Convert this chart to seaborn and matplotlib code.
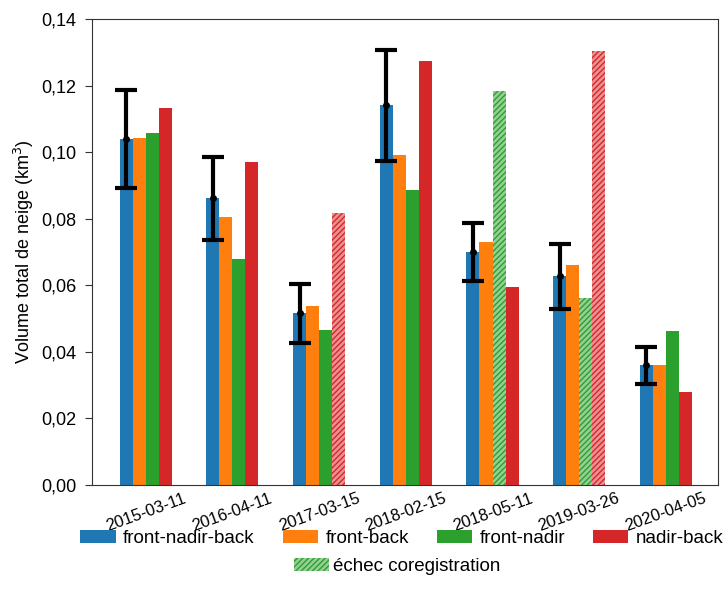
import numpy as np
import pandas as pd
import matplotlib
matplotlib.use("Agg")
import matplotlib.pyplot as plt
from matplotlib.patches import Patch
from matplotlib.colors import to_rgba
import seaborn as sns

dates = ["2015-03-11", "2016-04-11", "2017-03-15", "2018-02-15",
         "2018-05-11", "2019-03-26", "2020-04-05"]
methods = ["front-nadir-back", "front-back", "front-nadir", "nadir-back"]
front_nadir_back = [0.1040, 0.0862, 0.0517, 0.1142, 0.0700, 0.0627, 0.0362]
front_back = [0.1043, 0.0805, 0.0538, 0.0991, 0.0731, 0.0660, 0.0360]
front_nadir = [0.1057, 0.0679, 0.0466, 0.0886, 0.1184, 0.0562, 0.0463]
nadir_back = [0.1132, 0.0970, 0.0817, 0.1274, 0.0595, 0.1305, 0.0279]
err_low = [0.0892, 0.0736, 0.0427, 0.0973, 0.0613, 0.0529, 0.0304]
err_high = [0.1187, 0.0985, 0.0603, 0.1307, 0.0787, 0.0724, 0.0416]
# failed coregistration: (method, date)
failed = [("nadir-back", "2017-03-15"), ("front-nadir", "2018-05-11"),
          ("front-nadir", "2019-03-26"), ("nadir-back", "2019-03-26")]

colors = ["#1f77b4", "#ff7f0e", "#2ca02c", "#d62728"]

sns.set_style("ticks")
plt.rcParams["font.family"] = ["Liberation Sans", "DejaVu Sans"]
plt.rcParams["hatch.linewidth"] = 1.0
plt.rcParams["text.color"] = "black"
plt.rcParams["axes.labelcolor"] = "black"
plt.rcParams["xtick.color"] = "#333333"
plt.rcParams["ytick.color"] = "#333333"
plt.rcParams["xtick.labelcolor"] = "black"
plt.rcParams["ytick.labelcolor"] = "black"

series = [front_nadir_back, front_back, front_nadir, nadir_back]
rows = []
for m, vals in zip(methods, series):
    for d, v in zip(dates, vals):
        rows.append({"date": d, "method": m, "value": v})
df = pd.DataFrame(rows)

fig = plt.figure(figsize=(7.27, 6.04), dpi=100)
ax = fig.add_axes([0.1265, 0.197, 0.861, 0.7715])

sns.barplot(data=df, x="date", y="value", hue="method", order=dates,
            hue_order=methods, palette=colors, width=0.6, saturation=1,
            ax=ax, legend=False)

for ci, cont in enumerate(ax.containers):
    m = methods[ci]
    for di, p in enumerate(cont.patches):
        p.set_linewidth(0)
        if (m, dates[di]) in failed:
            p.set_facecolor(to_rgba(colors[ci], 0.5))
            p.set_edgecolor(colors[ci])
            p.set_hatch("//////")
            p.set_linewidth(0)

blue = ax.containers[0].patches
xs = [p.get_x() + p.get_width() / 2 for p in blue]
vals = np.array(front_nadir_back)
yerr = np.array([vals - np.array(err_low), np.array(err_high) - vals])
ax.errorbar(xs, vals, yerr=yerr, fmt="o", color="black", ms=4,
            elinewidth=3, capsize=8, capthick=3)

ax.set_xlim(-0.62, 6.6)
ax.set_ylim(0, 0.14)
ticks = np.arange(0, 0.141, 0.02)
ax.set_yticks(ticks)
ax.set_yticklabels([f"{t:.2f}".replace(".", ",") for t in ticks], fontsize=13)
ax.set_xlabel("")
ax.set_ylabel("Volume total de neige (km$^3$)", fontsize=13)
ax.tick_params(axis="x", labelsize=12, length=0, pad=4)
ax.tick_params(axis="y", length=5, pad=6)
for lab in ax.get_xticklabels():
    lab.set_rotation(20)
    lab.set_ha("center")
for s in ax.spines.values():
    s.set_visible(True)
    s.set_color("#333333")

handles = [Patch(facecolor=c, edgecolor="none") for c in colors]
leg1 = fig.legend(handles, methods, loc="center", bbox_to_anchor=(0.553, 0.108),
                  ncol=4, frameon=False, fontsize=13.5, handlelength=1.87,
                  columnspacing=1.5, handletextpad=0.4, borderaxespad=0,
                  borderpad=0)
h2 = Patch(facecolor=to_rgba(colors[2], 0.5), edgecolor=colors[2], hatch="//////", linewidth=0)
leg2 = fig.legend([h2], ["échec coregistration"], loc="center",
                  bbox_to_anchor=(0.546, 0.062), frameon=False, fontsize=13.5,
                  handlelength=1.87, handletextpad=0.2, borderaxespad=0,
                  borderpad=0)

fig.savefig("out.png", dpi=100)
